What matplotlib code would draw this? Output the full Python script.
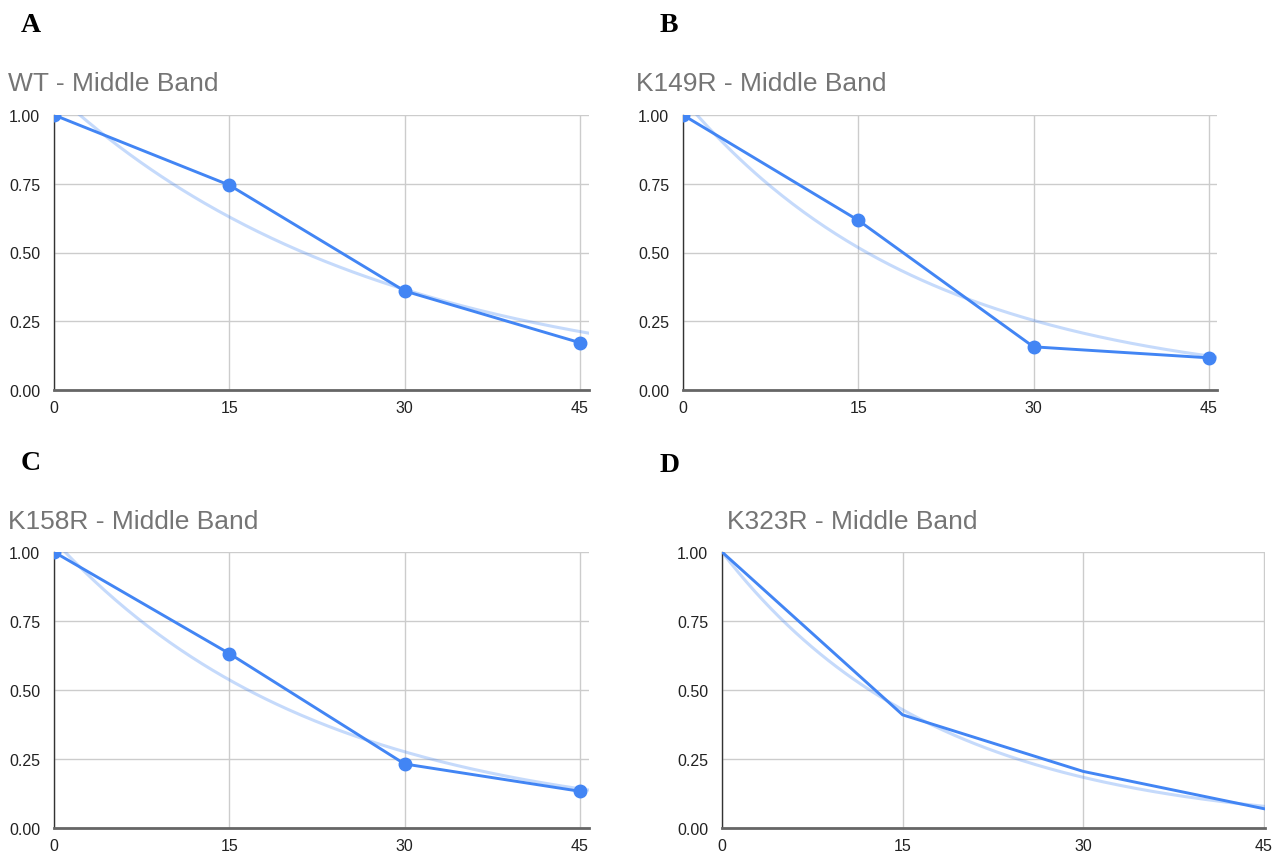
import numpy as np
import matplotlib
matplotlib.use('Agg')
import matplotlib.pyplot as plt

# data (relative band intensity vs minutes)
minutes = [0, 15, 30, 45]
wt = [1.00, 0.745, 0.36, 0.172]
k149r = [1.00, 0.617, 0.157, 0.117]
k158r = [1.00, 0.632, 0.232, 0.133]
k323r = [1.00, 0.41, 0.205, 0.07]

# exponential trendlines y = a*exp(b*x), coefficients
trend_a = [1.083, 1.059, 1.043, 1.0]
trend_b = [-0.0362, -0.0477, -0.0443, -0.0565]

titles = ['WT - Middle Band', 'K149R - Middle Band', 'K158R - Middle Band', 'K323R - Middle Band']
letters = ['A', 'B', 'C', 'D']
series = [wt, k149r, k158r, k323r]
show_markers = [True, True, True, False]

blue = '#4285F4'
W, H = 1286, 854

# panel boxes in pixels: left, right, top, bottom, x max
boxes = [(54, 589, 116, 391, 45.77),
         (683, 1217, 116, 391, 45.7),
         (54, 589, 553, 829, 45.77),
         (722, 1265, 553, 829, 45.1)]
title_pos = [(8, 91), (636, 91), (8, 529), (727, 529)]
letter_pos = [(21, 32), (660, 32), (21, 470), (660, 472)]

plt.rcParams['font.family'] = ['Liberation Sans', 'DejaVu Sans']
fig = plt.figure(figsize=(W / 100, H / 100), dpi=100)

for i in range(4):
    l, r, t, b, xmax = boxes[i]
    ax = fig.add_axes([l / W, 1 - b / H, (r - l) / W, (b - t) / H])
    y = series[i]

    # trendline
    xs = np.linspace(0, xmax, 200)
    ax.plot(xs, trend_a[i] * np.exp(trend_b[i] * xs), color=blue, alpha=0.3, lw=2.2, zorder=2)

    if show_markers[i]:
        ax.plot(minutes, y, color=blue, lw=2.1, marker='o', markersize=9, zorder=3)
    else:
        ax.plot(minutes, y, color=blue, lw=2.1, zorder=3)

    ax.set_xlim(0, xmax)
    ax.set_ylim(0, 1)
    ax.set_xticks(minutes)
    ax.set_yticks([0, 0.25, 0.5, 0.75, 1.0])
    ax.set_yticklabels(['0.00', '0.25', '0.50', '0.75', '1.00'])
    ax.grid(True, color='#cccccc', lw=1)
    ax.set_axisbelow(True)
    ax.tick_params(length=0, labelsize=11.5, labelcolor='#222222')
    ax.tick_params(axis='y', pad=10)
    ax.tick_params(axis='x', pad=7)
    for s in ['top', 'right']:
        ax.spines[s].set_visible(False)
    ax.spines['left'].set_color('#333333')
    ax.spines['left'].set_linewidth(1)
    ax.spines['bottom'].set_color('#666666')
    ax.spines['bottom'].set_linewidth(2)

    fig.text(title_pos[i][0] / W, 1 - title_pos[i][1] / H, titles[i],
             fontsize=19, color='#757575', va='baseline', ha='left')
    fig.text(letter_pos[i][0] / W, 1 - letter_pos[i][1] / H, letters[i],
             fontsize=20, fontweight='bold', family='Liberation Serif',
             va='baseline', ha='left')

fig.savefig('out.png', dpi=100)
